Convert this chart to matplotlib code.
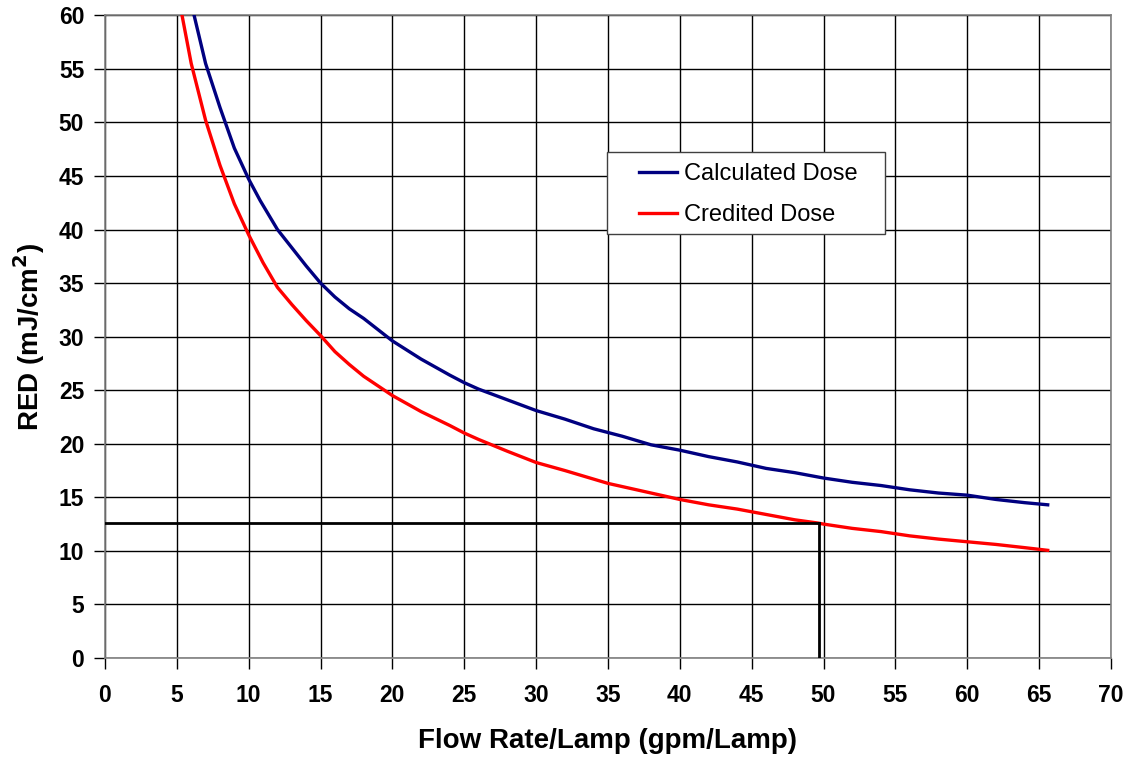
import matplotlib
matplotlib.use("Agg")
import matplotlib.pyplot as plt
from matplotlib.patches import Rectangle

plt.rcParams['font.family'] = ['Liberation Sans', 'DejaVu Sans']

# Calculated dose (navy curve)
flow_calc = [6.2, 7, 8, 9, 10, 10.8, 12, 13, 14, 15, 16, 17, 18, 20, 22, 24, 25, 26, 28,
             30, 32, 34, 35, 36, 38, 40, 42, 44, 46, 48, 50, 52, 54, 56, 58, 60, 62, 64, 65.6]
dose_calc = [60, 55.5, 51.4, 47.6, 44.7, 42.7, 40.0, 38.3, 36.6, 35.0, 33.7, 32.6, 31.7,
             29.6, 27.9, 26.4, 25.7, 25.1, 24.1, 23.1, 22.3, 21.4, 21.05, 20.7, 19.9, 19.4,
             18.8, 18.3, 17.7, 17.3, 16.8, 16.4, 16.1, 15.7, 15.4, 15.2, 14.8, 14.5, 14.3]

# Credited dose (red curve)
flow_cred = [5.36, 6, 7, 8, 9, 10, 11, 12, 13, 14, 15, 16, 17, 18, 20, 22, 24, 25, 26, 28,
             30, 32, 34, 35, 36, 38, 40, 42, 44, 46, 48, 49.6, 50, 52, 54, 56, 58, 60, 62, 64, 65.6]
dose_cred = [60, 55.5, 50.2, 46.0, 42.4, 39.5, 36.9, 34.6, 33.0, 31.5, 30.1, 28.6, 27.4,
             26.3, 24.5, 23.0, 21.7, 21.0, 20.4, 19.3, 18.25, 17.5, 16.7, 16.3, 16.0, 15.4,
             14.8, 14.3, 13.9, 13.4, 12.9, 12.6, 12.5, 12.1, 11.8, 11.4, 11.1, 10.85, 10.6, 10.3, 10.05]

# design point
design_flow = 49.7
design_dose = 12.6

fig = plt.figure(figsize=(11.29, 7.57), dpi=100)
ax = fig.add_axes([0.093, 0.1308, 0.891, 0.849])

ax.plot(flow_calc, dose_calc, color='#000080', linewidth=2.4, label='Calculated Dose', zorder=3)
ax.plot(flow_cred, dose_cred, color='#ff0000', linewidth=2.4, label='Credited Dose', zorder=3)

ax.plot([0, design_flow], [design_dose, design_dose], color='black', linewidth=2, zorder=4)
ax.plot([design_flow, design_flow], [0, design_dose], color='black', linewidth=2, zorder=4)

ax.set_xlim(0, 70)
ax.set_ylim(0, 60)
ax.set_xticks(range(0, 71, 5))
ax.set_yticks(range(0, 61, 5))
ax.grid(True, color='black', linewidth=1)
ax.set_axisbelow(True)
for s in ax.spines.values():
    s.set_color('#808080')
    s.set_linewidth(1.2)

ax.tick_params(axis='both', direction='out', length=8, width=1, color='black', labelsize=16.5)
ax.tick_params(axis='x', pad=11)
ax.tick_params(axis='y', pad=7)
for lab in ax.get_xticklabels() + ax.get_yticklabels():
    lab.set_fontweight('bold')

ax.set_xlabel('Flow Rate/Lamp (gpm/Lamp)', fontsize=20, fontweight='bold', labelpad=15)
ax.set_ylabel('RED (mJ/cm$^\\mathbf{2}$)', fontsize=20, fontweight='bold', labelpad=8)

# legend box drawn separately, entries placed inside it
ax.add_patch(Rectangle((0.499, 0.659), 0.276, 0.129, transform=ax.transAxes,
                       facecolor='white', edgecolor='#404040', linewidth=1, zorder=5))
leg = ax.legend(loc='center left', bbox_to_anchor=(0.531, 0.721), fontsize=17,
                frameon=False, borderaxespad=0, borderpad=0,
                handlelength=1.6, handletextpad=0.3, labelspacing=0.8)
leg.set_zorder(6)

fig.savefig('out.png', dpi=100)
